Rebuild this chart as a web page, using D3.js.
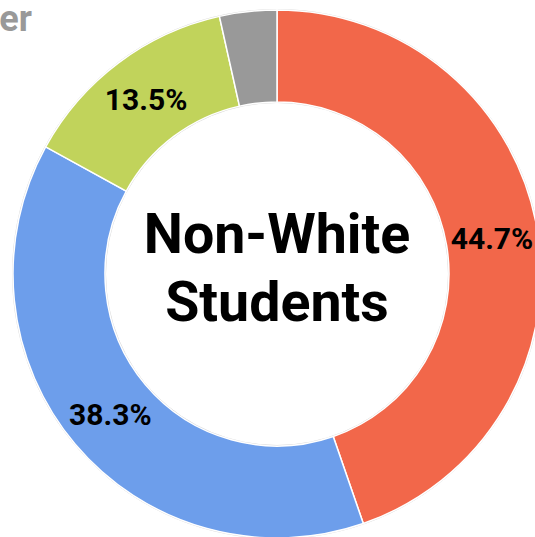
<!DOCTYPE html>
<html><head><meta charset="utf-8">
<script src="https://cdn.jsdelivr.net/npm/d3@7"></script>
<style>html,body{margin:0;padding:0;background:#fff;overflow:hidden}</style>
</head><body>
<svg id="c" width="535" height="537"></svg>
<script>
const categories = ["Hispanic", "Black", "Asian", "Other"];
const values = [44.7, 38.3, 13.5, 3.5];
const labels = ["44.7%", "38.3%", "13.5%", ""];
const colors = ["#f2674a", "#6d9eeb", "#c1d35b", "#999999"];
const centerLines = ["Non-White", "Students"];
const legendText = ["Other"];

const svg = d3.select("#c");
const cx = 277, cy = 274, R = 264, r = 172;
const g = svg.append("g").attr("transform", `translate(${cx},${cy})`);

const pie = d3.pie().sort(null).value(d => d)(values);
const arc = d3.arc().innerRadius(r).outerRadius(R);
const color = d3.scaleOrdinal().domain(categories).range(colors);

g.append("circle").attr("r", R + 0.5).attr("fill", "none").attr("stroke", "#d8d8d8").attr("stroke-width", 1);
g.append("circle").attr("r", r - 0.5).attr("fill", "none").attr("stroke", "#d8d8d8").attr("stroke-width", 1);

g.selectAll("path.slice").data(pie).join("path")
  .attr("class", "slice")
  .attr("d", arc)
  .attr("fill", (d, i) => color(categories[i]))
  .attr("stroke", "#fff").attr("stroke-width", 1.5);

g.selectAll("text.lbl").data(pie).join("text")
  .attr("class", "lbl")
  .attr("transform", d => `translate(${arc.centroid(d)})`)
  .attr("text-anchor", "middle").attr("dy", "0.36em")
  .attr("font-family", "Roboto, sans-serif").attr("font-weight", 700)
  .attr("font-size", 30).attr("fill", "#000")
  .text((d, i) => labels[i]);

g.selectAll("text.center").data(centerLines).join("text")
  .attr("class", "center")
  .attr("text-anchor", "middle")
  .attr("y", (d, i) => -21 + i * 68)
  .attr("font-family", "Roboto, sans-serif").attr("font-weight", 700)
  .attr("font-size", 55.5).attr("fill", "#000")
  .text(d => d);

svg.append("text").attr("x", 32).attr("y", 31)
  .attr("text-anchor", "end")
  .attr("font-family", "Roboto, sans-serif").attr("font-weight", 700)
  .attr("font-size", 36).attr("fill", "#999")
  .text(legendText[0]);
</script>
</body></html>
